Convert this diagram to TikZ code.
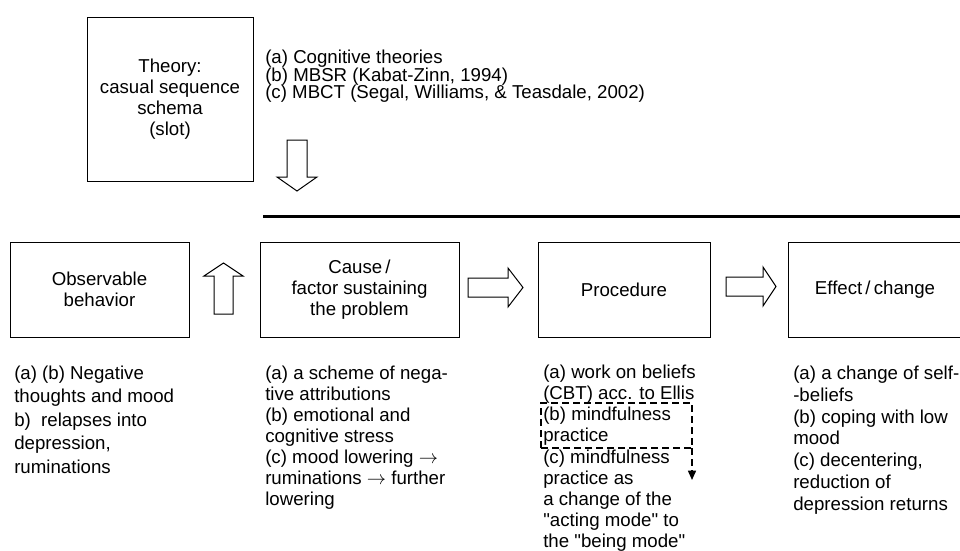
\documentclass[tikz,border=0pt]{standalone}
\usepackage{fontspec}
\setmainfont{Liberation Sans}
\usetikzlibrary{arrows.meta}
\begin{document}
\begin{tikzpicture}[x=0.75pt,y=-0.75pt,
  box/.style={draw, line width=0.75pt, inner sep=0, align=center,
    font=\fontsize{14}{15.75}\selectfont},
  blockarrow/.style={draw, line width=0.75pt, fill=white, line join=miter},
  txt/.style={anchor=north west, inner sep=0, align=left},
  dashbox/.style={draw, line width=1.1pt, dash pattern=on 5.25pt off 3pt}]
\useasboundingbox (0,0) rectangle (960,550);

% boxes
\node[box, minimum width=124.5pt, minimum height=123pt] (theory) at (170,99)
  {Theory:\\casual sequence\\schema\\(slot)};
\node[box, minimum width=134.25pt, minimum height=71.25pt] (obs) at (99.5,289.5)
  {Observable\\behavior};
\node[box, minimum width=149.25pt, minimum height=71.25pt] (cause) at (359.5,289.5)
  {Cause\,/\\factor sustaining\\the problem};
\node[box, minimum width=129pt, minimum height=71.25pt] (proc) at (624,289.5)
  {Procedure};
\node[box, minimum width=130.5pt, minimum height=71.25pt] (effect) at (875,289.5)
  {Effect\,/\,change};

% top list
\node[txt, font={\fontsize{14}{13}\selectfont\lineskiplimit=-100pt\relax}] (theories) at (265,50)
  {(a) Cognitive theories\\(b) MBSR (Kabat-Zinn, 1994)\\(c) MBCT (Segal, Williams, \& Teasdale, 2002)};

% thick line
\coordinate (lineL) at (263,216.5);
\coordinate (lineR) at (962,216.5);
\draw[line width=2.2pt] (lineL) -- (lineR);

% block arrows
\draw[blockarrow] (287,140) -- (307,140) -- (307,177) -- (317,177) -- (297,191)
  -- (277,177) -- (287,177) -- cycle;
\draw[blockarrow] (214,314) -- (233,314) -- (233,276) -- (243,276) -- (223.5,263)
  -- (204,276) -- (214,276) -- cycle;
\draw[blockarrow] (468,278) -- (508,278) -- (508,268) -- (523,287.5) -- (508,307)
  -- (508,297) -- (468,297) -- cycle;
\draw[blockarrow] (726,277) -- (763,277) -- (763,267) -- (776,286.5) -- (763,306)
  -- (763,296) -- (726,296) -- cycle;

% column texts
\node[txt, font=\fontsize{14}{17.6}\selectfont] (t1) at (14,365.5)
  {(a) (b) Negative\\thoughts and mood\\b)\ \ relapses into\\depression,\\ruminations};
\node[txt, font=\fontsize{14}{15.75}\selectfont] (t2) at (265,365.5)
  {(a) a scheme of nega-\\tive attributions\\(b) emotional and\\cognitive stress\\(c) mood lowering $\rightarrow$\\ruminations $\rightarrow$ further\\lowering};
\node[txt, font=\fontsize{14}{15.9}\selectfont] (t3) at (543,364.5)
  {(a) work on beliefs\\(CBT) acc. to Ellis\\(b) mindfulness\\practice\\(c) mindfulness\\practice as\\a change of the\\\textquotedbl acting mode\textquotedbl{} to\\the \textquotedbl being mode\textquotedbl};
\node[txt, font=\fontsize{14}{16.4}\selectfont] (t4) at (793,365.5)
  {(a) a change of self-\\-beliefs\\(b) coping with low\\mood\\(c) decentering,\\reduction of\\depression returns};

% dashed frame with arrow
\coordinate (dA) at (541,448);
\coordinate (dB) at (541,403);
\coordinate (dC) at (692,403);
\coordinate (dD) at (692,448);
\coordinate (dE) at (692,480);
\draw[dashbox] (dA) -- (dB) -- (dC) -- (dD) -- cycle;
\draw[dashbox, -{Triangle[width=6pt,length=7pt]}] (dD) -- (dE);
\end{tikzpicture}
\end{document}
